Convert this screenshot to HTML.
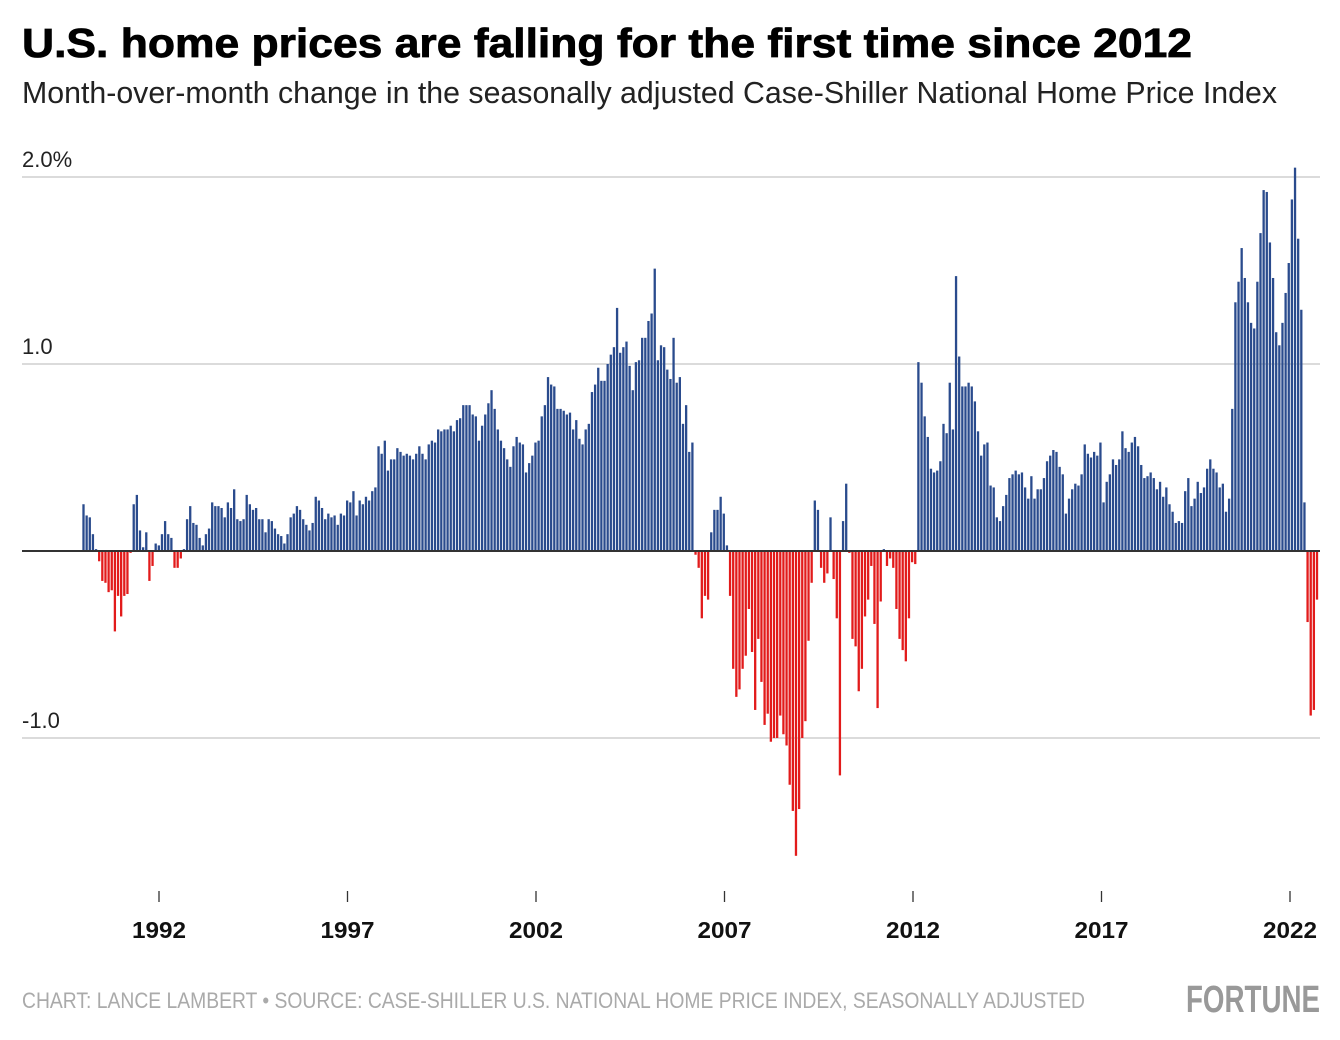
<!DOCTYPE html>
<html><head><meta charset="utf-8"><style>
html,body{margin:0;padding:0;background:#fff;}
svg{display:block;}
</style></head><body>
<svg id="chart" width="1340" height="1040" viewBox="0 0 1340 1040" xmlns="http://www.w3.org/2000/svg">
<text x="22" y="57" font-family="Liberation Sans, sans-serif" font-weight="900" font-size="41" fill="#000" textLength="1170" lengthAdjust="spacingAndGlyphs" stroke="#000" stroke-width="0.8">U.S. home prices are falling for the first time since 2012</text>
<text x="22" y="103" font-family="Liberation Sans, sans-serif" font-size="31" fill="#222" textLength="1255" lengthAdjust="spacingAndGlyphs">Month-over-month change in the seasonally adjusted Case-Shiller National Home Price Index</text>
<g id="grid"></g>
<g id="bars"></g>
<g id="xaxis"></g>
<text x="22" y="1008" font-family="Liberation Sans, sans-serif" font-size="22" fill="#aaa" textLength="1063" lengthAdjust="spacingAndGlyphs">CHART: LANCE LAMBERT • SOURCE: CASE-SHILLER U.S. NATIONAL HOME PRICE INDEX, SEASONALLY ADJUSTED</text>
<text x="1186" y="1012" font-family="Liberation Sans, sans-serif" font-weight="bold" font-size="38" fill="#999" textLength="134" lengthAdjust="spacingAndGlyphs">FORTUNE</text>
</svg>
<script>
const startYear = 1990;
const tickYears = [1992, 1997, 2002, 2007, 2012, 2017, 2022];
const yTickValues = [2, 1, -1];
const yTickLabels = ["2.0%", "1.0", "-1.0"];
const values = [
0.25,0.19,0.18,0.09,0.01,-0.055,-0.16,-0.17,-0.22,-0.21,
-0.43,-0.24,-0.35,-0.24,-0.23,-0.01,0.25,0.30,0.11,0.02,
0.10,-0.16,-0.08,0.04,0.03,0.09,0.16,0.09,0.07,-0.09,
-0.09,-0.04,0.01,0.17,0.24,0.15,0.14,0.07,0.03,0.09,
0.12,0.26,0.24,0.24,0.23,0.18,0.26,0.23,0.33,0.17,
0.16,0.17,0.30,0.25,0.22,0.23,0.17,0.17,0.10,0.17,
0.16,0.12,0.09,0.08,0.04,0.09,0.18,0.20,0.24,0.22,
0.17,0.14,0.11,0.15,0.29,0.27,0.23,0.17,0.20,0.18,0.19,
0.14,0.20,0.19,0.27,0.26,0.32,0.19,0.27,0.25,0.29,0.27,0.32,0.34,0.56,0.52,0.59,0.43,0.49,0.49,0.55,0.53,0.51,0.52,0.51,0.49,0.52,0.56,0.52,0.49,0.57,0.59,0.58,0.65,0.64,0.65,0.65,0.67,0.64,0.70,0.71,0.78,0.78,0.78,0.73,0.72,0.59,0.67,0.73,0.79,0.86,0.76,0.65,0.59,0.55,0.49,0.45,0.56,0.61,0.58,0.57,0.42,0.47,0.51,0.58,0.59,0.72,0.78,0.93,0.89,0.88,0.76,0.76,0.75,0.73,0.74,0.65,0.70,0.60,0.57,0.65,0.68,
0.85,0.89,0.98,0.91,0.91,1.00,1.05,1.09,1.30,1.06,1.09,1.12,0.99,0.86,1.01,1.02,1.14,1.14,1.23,1.27,1.51,1.02,1.10,1.09,0.97,0.92,1.14,0.90,0.93,0.68,0.78,0.53,0.58,-0.02,-0.09,-0.36,-0.24,-0.26,0.10,0.22,0.22,0.29,0.20,0.03,-0.24,-0.63,-0.78,-0.74,-0.63,-0.56,-0.31,-0.54,-0.85,-0.47,-0.70,-0.93,-0.87,-1.02,-1.00,-1.00,-0.88,-0.98,-1.04,-1.25,-1.39,-1.63,-1.38,-1.00,-0.91,-0.48,-0.17,0.27,0.22,-0.09,-0.17,-0.12,0.18,-0.15,-0.36,-1.20,0.16,
0.36,-0.01,-0.47,-0.51,-0.75,-0.63,-0.35,-0.26,-0.08,-0.39,-0.84,-0.27,0.01,-0.08,-0.04,-0.09,-0.31,-0.47,-0.53,-0.59,-0.36,-0.06,-0.07,1.01,0.90,0.72,0.61,0.44,0.42,0.43,0.48,0.68,0.63,0.90,0.65,1.47,1.04,0.88,0.88,0.90,0.88,0.80,0.64,0.51,0.57,0.58,0.35,0.34,0.18,0.16,0.24,0.30,0.39,0.41,0.43,0.41,0.42,0.34,0.28,0.40,0.28,0.33,0.33,0.39,0.48,0.51,0.54,0.53,0.45,0.41,0.20,0.28,0.33,0.36,0.35,0.41,0.57,0.52,0.50,0.53,0.51,
0.58,0.26,0.37,0.41,0.49,0.46,0.49,0.64,0.55,0.53,0.58,0.61,0.56,0.46,0.39,0.40,0.42,0.39,0.33,0.37,0.29,0.34,0.25,0.21,0.15,0.16,0.15,0.32,0.39,0.24,0.28,0.37,0.31,0.34,0.44,0.49,0.44,0.42,0.34,0.36,0.21,0.28,0.76,1.33,1.44,1.62,1.46,1.33,1.22,1.19,1.44,1.70,1.93,1.92,1.65,1.46,1.17,1.10,1.22,1.38,1.54,1.88,2.05,1.67,1.29,0.26,-0.38,-0.88,-0.85,-0.26
];

const NS = "http://www.w3.org/2000/svg";
const N = values.length;
const X0 = 83.5, X1 = 1317;
function xIndex(i){ return X0 + i * (X1 - X0) / (N - 1); }
function xYear(yr){ return 159 + (yr - 1992) * 37.7; }
function y(v){ return 551 - v * 187; }
function mk(tag, attrs, parent){
  const el = document.createElementNS(NS, tag);
  for (const k in attrs) el.setAttribute(k, attrs[k]);
  parent.appendChild(el);
  return el;
}
const grid = document.getElementById('grid');
yTickValues.forEach((v, k) => {
  const ln = mk('line', {x1:22, x2:1320, y1:y(v), y2:y(v), stroke:'#cfcfcf', 'stroke-width':1.5}, grid);
  
  
  const t = mk('text', {x:22, y:y(v)-10, 'font-family':'Liberation Sans, sans-serif', 'font-size':22, fill:'#222'}, grid);
  t.textContent = yTickLabels[k];
  
  
});
const bars = document.getElementById('bars');
const bw = 2.3;
values.forEach((v, i) => {
  const cx = xIndex(i);
  const top = Math.min(y(v), y(0)), h = Math.abs(y(v) - y(0));
  const r = mk('rect', {x:(cx - bw/2).toFixed(2), y:top.toFixed(2), width:bw, height:Math.max(h,0.5).toFixed(2), fill: v >= 0 ? '#2a4b8d' : '#e21b1b'}, bars);
  
  
});
const zl = mk('line', {x1:22, x2:1320, y1:y(0), y2:y(0), stroke:'#333', 'stroke-width':2}, bars);


const xa = document.getElementById('xaxis');
tickYears.forEach(yr => {
  const tx = xYear(yr);
  const tk = mk('line', {x1:tx, x2:tx, y1:891, y2:902, stroke:'#333', 'stroke-width':1.3}, xa);
  
  
  const t = mk('text', {x:tx, y:938, 'text-anchor':'middle', 'font-family':'Liberation Sans, sans-serif', 'font-weight':'bold', 'font-size':23, fill:'#111', textLength:54, lengthAdjust:'spacingAndGlyphs'}, xa);
  t.textContent = String(yr);
  
  
});
</script>
</body></html>
